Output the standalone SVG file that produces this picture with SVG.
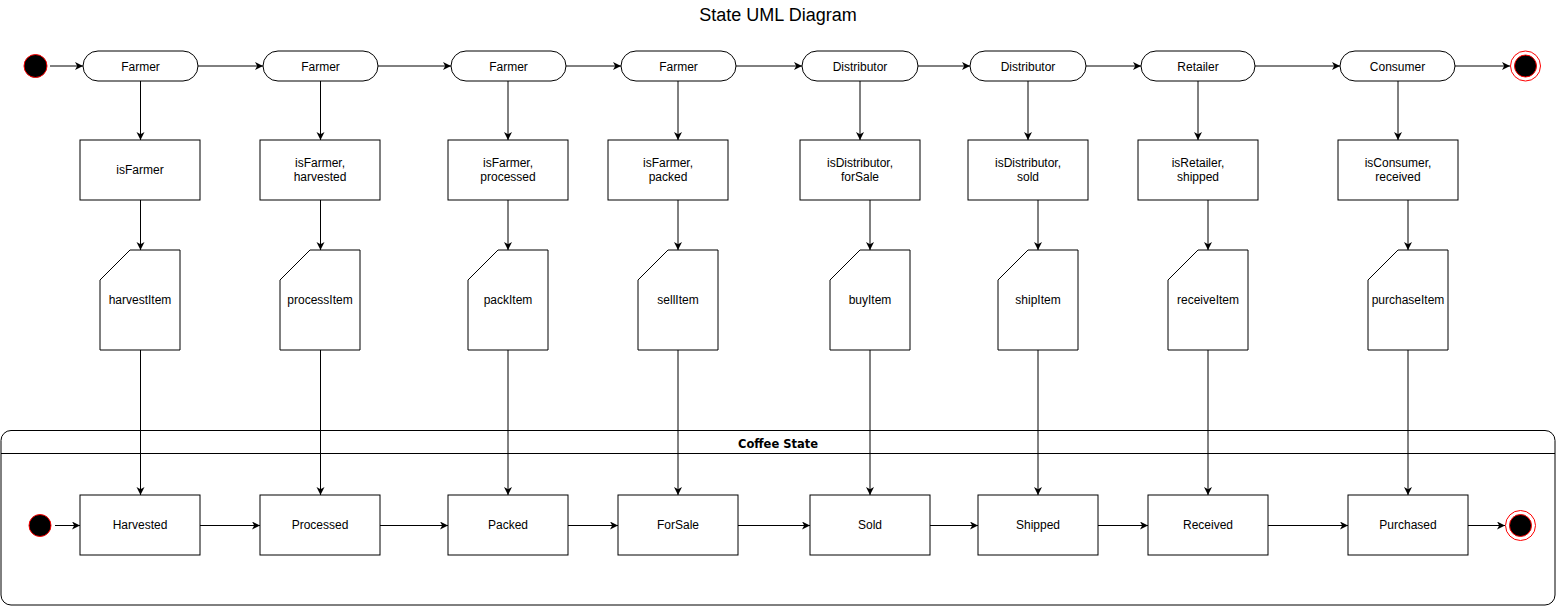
<svg xmlns="http://www.w3.org/2000/svg" width="1556" height="606" viewBox="0 0 1556 606">
<defs>
<marker id="arr" markerUnits="userSpaceOnUse" markerWidth="9" markerHeight="9" refX="8" refY="4" orient="auto">
<path d="M0,0 L8,4 L0,8 L2.2,4 z" fill="#000"/>
</marker>
<style>
.t{font-family:"Liberation Sans",Arial,sans-serif;font-size:12px;fill:#000;text-anchor:middle}
.term{fill:#fff;stroke:#000;stroke-width:1}
.box{fill:#fff;stroke:#000;stroke-width:1}
.card{fill:#fff;stroke:#000;stroke-width:1}
.c{stroke:#000;stroke-width:1;fill:none;marker-end:url(#arr)}
.start{fill:#000;stroke:#ff0000;stroke-width:1}
.endo{fill:#fff;stroke:#ff0000;stroke-width:1}
</style>
</defs>
<rect width="1556" height="606" fill="#fff"/>
<text x="778" y="21" style="font-family:'Liberation Sans',Arial,sans-serif;font-size:18px;text-anchor:middle">State UML Diagram</text>

<g id="container">
<rect x="1" y="430.5" width="1554" height="174.5" rx="10" ry="10" fill="#fff" stroke="#000"/>
<line x1="1" y1="453.5" x2="1555" y2="453.5" stroke="#000"/>
<text x="778" y="447.5" style="font-family:'DejaVu Sans',Verdana,sans-serif;font-size:11.5px;font-weight:bold;text-anchor:middle">Coffee State</text>
</g>

<g id="connectors">
<line class="c" x1="50" y1="66" x2="83" y2="66"/>
<line class="c" x1="198" y1="66" x2="263" y2="66"/>
<line class="c" x1="378" y1="66" x2="451" y2="66"/>
<line class="c" x1="566" y1="66" x2="621" y2="66"/>
<line class="c" x1="736" y1="66" x2="802" y2="66"/>
<line class="c" x1="918" y1="66" x2="970" y2="66"/>
<line class="c" x1="1086" y1="66" x2="1141" y2="66"/>
<line class="c" x1="1255" y1="66" x2="1340" y2="66"/>
<line class="c" x1="1455" y1="66" x2="1510" y2="66"/>

<line class="c" x1="140.5" y1="81" x2="140.5" y2="140"/>
<line class="c" x1="320.5" y1="81" x2="320.5" y2="140"/>
<line class="c" x1="508" y1="81" x2="508" y2="140"/>
<line class="c" x1="678" y1="81" x2="678" y2="140"/>
<line class="c" x1="860" y1="81" x2="860" y2="140"/>
<line class="c" x1="1028" y1="81" x2="1028" y2="140"/>
<line class="c" x1="1198" y1="81" x2="1198" y2="140"/>
<line class="c" x1="1398" y1="81" x2="1398" y2="140"/>

<line class="c" x1="140.5" y1="200" x2="140.5" y2="250"/>
<line class="c" x1="320.5" y1="200" x2="320.5" y2="250"/>
<line class="c" x1="508" y1="200" x2="508" y2="250"/>
<line class="c" x1="678" y1="200" x2="678" y2="250"/>
<line class="c" x1="870" y1="200" x2="870" y2="250"/>
<line class="c" x1="1038" y1="200" x2="1038" y2="250"/>
<line class="c" x1="1208" y1="200" x2="1208" y2="250"/>
<line class="c" x1="1408" y1="200" x2="1408" y2="250"/>

<line class="c" x1="140.5" y1="350" x2="140.5" y2="495"/>
<line class="c" x1="320.5" y1="350" x2="320.5" y2="495"/>
<line class="c" x1="508" y1="350" x2="508" y2="495"/>
<line class="c" x1="678" y1="350" x2="678" y2="495"/>
<line class="c" x1="870" y1="350" x2="870" y2="495"/>
<line class="c" x1="1038" y1="350" x2="1038" y2="495"/>
<line class="c" x1="1208" y1="350" x2="1208" y2="495"/>
<line class="c" x1="1408" y1="350" x2="1408" y2="495"/>

<line class="c" x1="55" y1="525.5" x2="80" y2="525.5"/>
<line class="c" x1="200" y1="525.5" x2="260" y2="525.5"/>
<line class="c" x1="380" y1="525.5" x2="448" y2="525.5"/>
<line class="c" x1="568" y1="525.5" x2="618" y2="525.5"/>
<line class="c" x1="738" y1="525.5" x2="810" y2="525.5"/>
<line class="c" x1="930" y1="525.5" x2="978" y2="525.5"/>
<line class="c" x1="1098" y1="525.5" x2="1148" y2="525.5"/>
<line class="c" x1="1268" y1="525.5" x2="1348" y2="525.5"/>
<line class="c" x1="1468" y1="525.5" x2="1505" y2="525.5"/>
</g>

<g id="start-top"><circle class="start" cx="35.5" cy="66" r="11.5"/></g>
<g id="end-top"><circle class="endo" cx="1525.5" cy="66" r="15"/><circle class="start" cx="1525.5" cy="66" r="11"/></g>

<g id="t1"><rect class="term" x="83" y="51" width="115" height="30" rx="15"/><text class="t" x="140.5" y="70.5">Farmer</text></g>
<g id="t2"><rect class="term" x="263" y="51" width="115" height="30" rx="15"/><text class="t" x="320.5" y="70.5">Farmer</text></g>
<g id="t3"><rect class="term" x="451" y="51" width="115" height="30" rx="15"/><text class="t" x="508.5" y="70.5">Farmer</text></g>
<g id="t4"><rect class="term" x="621" y="51" width="115" height="30" rx="15"/><text class="t" x="678.5" y="70.5">Farmer</text></g>
<g id="t5"><rect class="term" x="802" y="51" width="116" height="30" rx="15"/><text class="t" x="860" y="70.5">Distributor</text></g>
<g id="t6"><rect class="term" x="970" y="51" width="116" height="30" rx="15"/><text class="t" x="1028" y="70.5">Distributor</text></g>
<g id="t7"><rect class="term" x="1141" y="51" width="114" height="30" rx="15"/><text class="t" x="1198" y="70.5">Retailer</text></g>
<g id="t8"><rect class="term" x="1340" y="51" width="115" height="30" rx="15"/><text class="t" x="1397.5" y="70.5">Consumer</text></g>

<g id="g1"><rect class="box" x="80" y="140" width="120" height="60"/><text class="t" x="140" y="174">isFarmer</text></g>
<g id="g2"><rect class="box" x="260" y="140" width="120" height="60"/><text class="t" x="320" y="167">isFarmer,</text><text class="t" x="320" y="181">harvested</text></g>
<g id="g3"><rect class="box" x="448" y="140" width="120" height="60"/><text class="t" x="508" y="167">isFarmer,</text><text class="t" x="508" y="181">processed</text></g>
<g id="g4"><rect class="box" x="608" y="140" width="120" height="60"/><text class="t" x="668" y="167">isFarmer,</text><text class="t" x="668" y="181">packed</text></g>
<g id="g5"><rect class="box" x="800" y="140" width="120" height="60"/><text class="t" x="860" y="167">isDistributor,</text><text class="t" x="860" y="181">forSale</text></g>
<g id="g6"><rect class="box" x="968" y="140" width="120" height="60"/><text class="t" x="1028" y="167">isDistributor,</text><text class="t" x="1028" y="181">sold</text></g>
<g id="g7"><rect class="box" x="1138" y="140" width="120" height="60"/><text class="t" x="1198" y="167">isRetailer,</text><text class="t" x="1198" y="181">shipped</text></g>
<g id="g8"><rect class="box" x="1338" y="140" width="120" height="60"/><text class="t" x="1398" y="167">isConsumer,</text><text class="t" x="1398" y="181">received</text></g>

<g id="f1"><path class="card" d="M130,250 H180 V350 H100 V280 Z"/><text class="t" x="140" y="304">harvestItem</text></g>
<g id="f2"><path class="card" d="M310,250 H360 V350 H280 V280 Z"/><text class="t" x="320" y="304">processItem</text></g>
<g id="f3"><path class="card" d="M498,250 H548 V350 H468 V280 Z"/><text class="t" x="508" y="304">packItem</text></g>
<g id="f4"><path class="card" d="M668,250 H718 V350 H638 V280 Z"/><text class="t" x="678" y="304">sellItem</text></g>
<g id="f5"><path class="card" d="M860,250 H910 V350 H830 V280 Z"/><text class="t" x="870" y="304">buyItem</text></g>
<g id="f6"><path class="card" d="M1028,250 H1078 V350 H998 V280 Z"/><text class="t" x="1038" y="304">shipItem</text></g>
<g id="f7"><path class="card" d="M1198,250 H1248 V350 H1168 V280 Z"/><text class="t" x="1208" y="304">receiveItem</text></g>
<g id="f8"><path class="card" d="M1398,250 H1448 V350 H1368 V280 Z"/><text class="t" x="1408" y="304">purchaseItem</text></g>

<g id="start-bottom"><circle class="start" cx="40" cy="525.5" r="11"/></g>
<g id="end-bottom"><circle class="endo" cx="1520.5" cy="525.5" r="15"/><circle class="start" cx="1520.5" cy="525.5" r="11"/></g>

<g id="s1"><rect class="box" x="80" y="495" width="120" height="60"/><text class="t" x="140" y="529">Harvested</text></g>
<g id="s2"><rect class="box" x="260" y="495" width="120" height="60"/><text class="t" x="320" y="529">Processed</text></g>
<g id="s3"><rect class="box" x="448" y="495" width="120" height="60"/><text class="t" x="508" y="529">Packed</text></g>
<g id="s4"><rect class="box" x="618" y="495" width="120" height="60"/><text class="t" x="678" y="529">ForSale</text></g>
<g id="s5"><rect class="box" x="810" y="495" width="120" height="60"/><text class="t" x="870" y="529">Sold</text></g>
<g id="s6"><rect class="box" x="978" y="495" width="120" height="60"/><text class="t" x="1038" y="529">Shipped</text></g>
<g id="s7"><rect class="box" x="1148" y="495" width="120" height="60"/><text class="t" x="1208" y="529">Received</text></g>
<g id="s8"><rect class="box" x="1348" y="495" width="120" height="60"/><text class="t" x="1408" y="529">Purchased</text></g>
</svg>
